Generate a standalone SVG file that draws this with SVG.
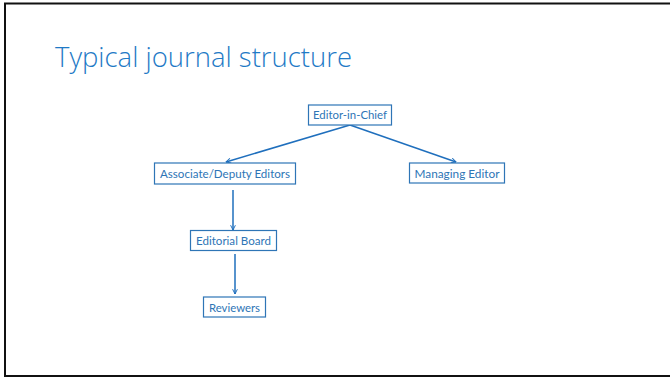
<svg xmlns="http://www.w3.org/2000/svg" width="670" height="378" viewBox="0 0 670 378">
<style>
.node rect{fill:#fff;stroke:#2e75b6;stroke-width:1.2}
.node text{font-family:Lato,"Open Sans","Liberation Sans",sans-serif;font-size:11px;fill:#2e75b6;text-anchor:middle}
.title{font-family:"Open Sans","Liberation Sans",sans-serif;font-weight:300;font-size:27.5px;fill:#1f7ac6}
#connectors line{stroke:#1f6fbd;stroke-width:1.5;marker-end:url(#arr)}
</style>
<defs>
<marker id="arr" viewBox="0 0 10 10" refX="9" refY="5" markerWidth="6" markerHeight="6" orient="auto" markerUnits="userSpaceOnUse">
<path d="M1,1 L9,5 L1,9" fill="none" stroke="#1f6fbd" stroke-width="1.6"/>
</marker>
</defs>
<rect x="0" y="0" width="670" height="378" fill="#fff"/>
<rect x="5" y="3.5" width="680" height="372.5" fill="none" stroke="#111" stroke-width="2"/>
<text class="title" x="55" y="67" textLength="297" lengthAdjust="spacingAndGlyphs">Typical journal structure</text>
<g id="connectors">
<line x1="350" y1="125" x2="226" y2="162"/>
<line x1="350" y1="125" x2="456" y2="162"/>
<line x1="233" y1="190" x2="233" y2="230"/>
<line x1="235" y1="254" x2="235" y2="294"/>
</g>
<g id="editor-in-chief" class="node"><rect x="308.5" y="105" width="83" height="20"/><text x="350" y="119" textLength="74" lengthAdjust="spacingAndGlyphs">Editor-in-Chief</text></g>
<g id="associate" class="node"><rect x="154.5" y="163" width="141" height="21"/><text x="225" y="177.5" textLength="130" lengthAdjust="spacingAndGlyphs">Associate/Deputy Editors</text></g>
<g id="managing" class="node"><rect x="409.5" y="163" width="95" height="20"/><text x="457" y="177.5" textLength="85" lengthAdjust="spacingAndGlyphs">Managing Editor</text></g>
<g id="board" class="node"><rect x="190.5" y="230.5" width="86" height="20"/><text x="233.5" y="244.5" textLength="75" lengthAdjust="spacingAndGlyphs">Editorial Board</text></g>
<g id="reviewers" class="node"><rect x="203.5" y="297" width="62" height="20"/><text x="234.5" y="311.5" textLength="51" lengthAdjust="spacingAndGlyphs">Reviewers</text></g>
</svg>
